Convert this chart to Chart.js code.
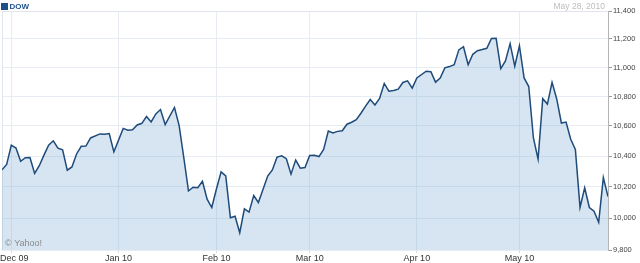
<!DOCTYPE html>
<html>
<head>
<meta charset="utf-8">
<script src="https://cdn.jsdelivr.net/npm/chart.js@4/dist/chart.umd.min.js"></script>
<style>
html,body{margin:0;padding:0;background:#fff;}
canvas{display:block;}
</style>
</head>
<body>
<canvas id="c" width="640" height="263"></canvas>
<script>
// ---- data ----
const dates = [
"2009-11-27","2009-11-30","2009-12-01","2009-12-02","2009-12-03","2009-12-04","2009-12-07","2009-12-08","2009-12-09","2009-12-10",
"2009-12-11","2009-12-14","2009-12-15","2009-12-16","2009-12-17","2009-12-18","2009-12-21","2009-12-22","2009-12-23","2009-12-24",
"2009-12-28","2009-12-29","2009-12-30","2009-12-31","2010-01-04","2010-01-05","2010-01-06","2010-01-07","2010-01-08","2010-01-11",
"2010-01-12","2010-01-13","2010-01-14","2010-01-15","2010-01-19","2010-01-20","2010-01-21","2010-01-22","2010-01-25","2010-01-26",
"2010-01-27","2010-01-28","2010-01-29","2010-02-01","2010-02-02","2010-02-03","2010-02-04","2010-02-05","2010-02-08","2010-02-09",
"2010-02-10","2010-02-11","2010-02-12","2010-02-16","2010-02-17","2010-02-18","2010-02-19","2010-02-22","2010-02-23","2010-02-24",
"2010-02-25","2010-02-26","2010-03-01","2010-03-02","2010-03-03","2010-03-04","2010-03-05","2010-03-08","2010-03-09","2010-03-10",
"2010-03-11","2010-03-12","2010-03-15","2010-03-16","2010-03-17","2010-03-18","2010-03-19","2010-03-22","2010-03-23","2010-03-24",
"2010-03-25","2010-03-26","2010-03-29","2010-03-30","2010-03-31","2010-04-01","2010-04-05","2010-04-06","2010-04-07","2010-04-08",
"2010-04-09","2010-04-12","2010-04-13","2010-04-14","2010-04-15","2010-04-16","2010-04-19","2010-04-20","2010-04-21","2010-04-22",
"2010-04-23","2010-04-26","2010-04-27","2010-04-28","2010-04-29","2010-04-30","2010-05-03","2010-05-04","2010-05-05","2010-05-06",
"2010-05-07","2010-05-10","2010-05-11","2010-05-12","2010-05-13","2010-05-14","2010-05-17","2010-05-18","2010-05-19","2010-05-20",
"2010-05-21","2010-05-24","2010-05-25","2010-05-26","2010-05-27","2010-05-28"
];
const dowClose = [
10310,10345,10472,10453,10366,10389,10390,10286,10337,10406,
10472,10501,10452,10441,10308,10329,10414,10465,10466,10520,
10547,10545,10549,10428,10584,10572,10574,10607,10618,10664,
10627,10681,10711,10610,10725,10603,10390,10173,10197,10194,
10236,10120,10067,10186,10297,10271,10002,10012,9908,10059,
10038,10144,10099,10269,10309,10393,10402,10383,10282,10374,
10321,10325,10404,10406,10397,10444,10566,10553,10564,10568,
10612,10625,10642,10686,10734,10779,10742,10786,10889,10836,
10841,10850,10896,10907,10857,10927,10974,10970,10898,10927,
10997,11006,11019,11123,11145,11019,11092,11117,11125,11134,
11204,11205,10992,11045,11167,11009,11152,10927,10868,10520,
10380,10785,10748,10897,10783,10620,10626,10511,10444,10068,
10193,10067,10044,9974,10259,10137
];
const xTickDates = ["2009-12-01","2010-01-01","2010-02-01","2010-03-01","2010-04-01","2010-05-03"];
const xTickLabels = ["Dec 09","Jan 10","Feb 10","Mar 10","Apr 10","May 10"];
const yTicks = [9800,10000,10200,10400,10600,10800,11000,11200,11400];
const seriesName = "DOW";
const asOfLabel = "May 28, 2010";
const creditLabel = "\u00A9 Yahoo!";

// weekday index relative to 2009-12-01 (weekends removed, holidays kept as gaps)
function wd(s){
  const day = 864e5;
  const t = Date.parse(s + "T00:00:00Z");
  const o = Date.parse("2009-12-01T00:00:00Z");
  let n = 0;
  const step = t >= o ? 1 : -1;
  for (let d = o; d !== t; d += step * day) {
    const w = new Date(d + step * day).getUTCDay();
    if (w !== 0 && w !== 6) n += step;
  }
  return n;
}

const points = dates.map((d, i) => ({ x: wd(d), y: dowClose[i] }));
const xTickPos = xTickDates.map(wd);

const FONT = '"Liberation Sans", Arial, Helvetica, sans-serif';

const frame = {
  id: 'frame',
  beforeDraw(chart) {
    // keep the first x label inside the canvas (left-aligned at the edge)
    const xs = chart.scales.x;
    const items = xs.getLabelItems(chart.chartArea);
    if (items && items.length) {
      const it = items[0];
      const w = chart.ctx.measureText ? null : null;
      it.options.textAlign = 'left';
      it.options.translation = [0, it.options.translation[1]];
    }
  },
  beforeDatasetsDraw(chart) {
    const a = chart.chartArea, ctx = chart.ctx;
    ctx.save();
    ctx.strokeStyle = '#dfe5ea';
    ctx.lineWidth = 1;
    ctx.beginPath();
    ctx.moveTo(Math.round(a.left) + 0.5, a.bottom);
    ctx.lineTo(Math.round(a.left) + 0.5, Math.round(a.top) + 0.5);
    ctx.lineTo(a.right, Math.round(a.top) + 0.5);
    ctx.stroke();
    ctx.restore();
  },
  afterDraw(chart) {
    const ctx = chart.ctx, a = chart.chartArea;
    ctx.save();
    ctx.fillStyle = '#1f4f8a';
    ctx.fillRect(1, 3, 7, 7);
    ctx.font = 'bold 8px ' + FONT;
    ctx.textAlign = 'left';
    ctx.textBaseline = 'alphabetic';
    ctx.fillStyle = '#1f528f';
    ctx.fillText(seriesName, 9.5, 9);
    ctx.font = '8.5px ' + FONT;
    ctx.fillStyle = '#bdbdbd';
    ctx.textAlign = 'right';
    ctx.fillText(asOfLabel, 605, 8.5);
    ctx.font = '9px ' + FONT;
    ctx.fillStyle = '#8a8a8a';
    ctx.textAlign = 'left';
    ctx.fillText(creditLabel, a.left + 3, 246);
    ctx.restore();
  }
};

new Chart(document.getElementById('c'), {
  type: 'line',
  data: {
    datasets: [{
      label: seriesName,
      data: points,
      borderColor: '#1e4b7a',
      borderWidth: 1.5,
      backgroundColor: 'rgba(120,170,210,0.30)',
      fill: 'start',
      pointRadius: 0,
      tension: 0
    }]
  },
  options: {
    responsive: false,
    devicePixelRatio: 1,
    animation: false,
    layout: { padding: { left: 2, top: 11, right: 0, bottom: 0 } },
    plugins: { legend: { display: false }, tooltip: { enabled: false }, title: { display: false } },
    scales: {
      x: {
        type: 'linear',
        position: 'bottom',
        min: wd(dates[0]),
        max: wd(dates[dates.length - 1]),
        afterBuildTicks(scale) { scale.ticks = xTickPos.map(v => ({ value: v })); },
        afterFit(scale) { scale.height = 13; scale.paddingLeft = 0; scale.paddingRight = 0; },
        grid: { color: '#e6ecf1', tickColor: '#d4d9de', tickLength: 3, drawOnChartArea: true },
        border: { display: false },
        ticks: {
          autoSkip: false, maxRotation: 0, minRotation: 0, padding: 0,
          color: '#333', font: { family: FONT, size: 9 },
          callback(value, index) { return xTickLabels[index]; }
        }
      },
      y: {
        type: 'logarithmic',
        position: 'right',
        min: yTicks[0],
        max: yTicks[yTicks.length - 1],
        afterBuildTicks(scale) { scale.ticks = yTicks.map(v => ({ value: v })); },
        afterFit(scale) { scale.width = 32; scale.paddingTop = 0; scale.paddingBottom = 0; },
        grid: { color: '#e6ecf1', tickColor: '#9a9a9a', tickLength: 4 },
        border: { display: true, color: '#b5b5b5' },
        ticks: {
          autoSkip: false, padding: 1,
          color: '#444', font: { family: FONT, size: 7.5 },
          callback(value) { return Number(value).toLocaleString('en-US'); }
        }
      }
    }
  },
  plugins: [frame]
});
</script>
</body>
</html>
